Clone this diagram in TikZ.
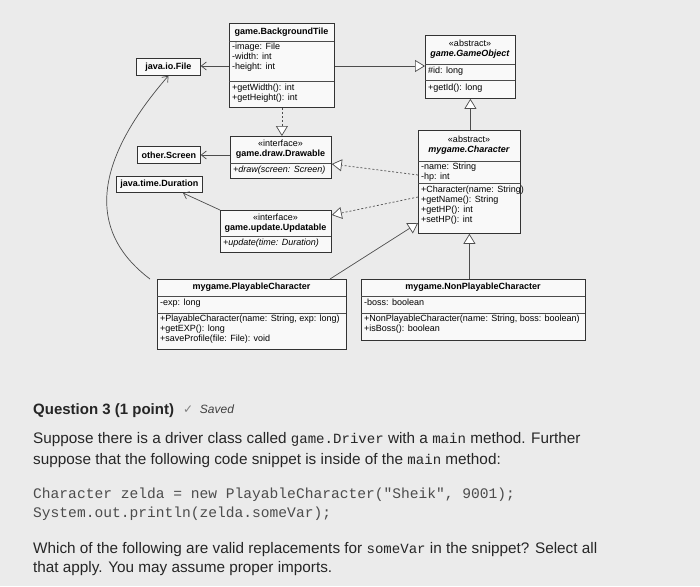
\documentclass[tikz,border=0pt]{standalone}
\usepackage{fontspec}
\setmainfont{Liberation Sans}
\newfontfamily\monof{Liberation Mono}[Scale=0.92]
\newfontfamily\monoc{Liberation Mono}
\newfontfamily\dejavu{DejaVu Sans}
\usetikzlibrary{arrows.meta}
\begin{document}
\begin{tikzpicture}[x=1pt,y=-1pt,
  box/.style={draw=black!80,line width=0.8pt,fill=white!95!gray,inner sep=0,anchor=north west},
  t/.style={font=\fontsize{9}{10}\selectfont,inner sep=0,align=left,anchor=north west},
  tc/.style={font=\fontsize{9}{10}\selectfont,inner sep=0,align=center},
  tb/.style={tc,font=\fontsize{9}{10}\selectfont\bfseries},
  ln/.style={draw=black!70,line width=0.7pt},
  dep/.style={ln,-{Straight Barb[length=5pt,width=8pt]}},
  inh/.style={ln,-{Triangle[open,length=10pt,width=12pt,fill=white]}},
  real/.style={ln,dashed,dash pattern=on 2pt off 2pt,-{Triangle[open,length=10pt,width=12pt,fill=white]}},
  q/.style={font=\fontsize{15.3}{18}\selectfont,text=black!85,inner sep=0,anchor=base west},
  cd/.style={font=\monoc\fontsize{14.6}{16}\selectfont,text=black!70,inner sep=0,anchor=base west}]
\fill[black!8] (0,0) rectangle (700,586);
\useasboundingbox (0,0) rectangle (700,586);
% boxes
\node[box,minimum width=105,minimum height=84] (bt) at (229,23) {};
\draw[ln] (229,41)--(334,41) (229,81)--(334,81);
\node[tb] at (281.5,32) {game.BackgroundTile};
\node[t] at (232,43) {-image: File\\-width: int\\-height: int};
\node[t] at (232,84) {+getWidth(): int\\+getHeight(): int};

\node[box,minimum width=90,minimum height=63] (go) at (425,35) {};
\draw[ln] (425,64)--(515,64) (425,80)--(515,80);
\node[tc] at (470,49.5) {«abstract»\\\textbf{\itshape game.GameObject}};
\node[t] at (428,67) {\#id: long};
\node[t] at (428,84) {+getId(): long};

\node[box,minimum width=64,minimum height=17] (file) at (136,58) {};
\node[tb] at (file) {java.io.File};

\node[box,minimum width=101,minimum height=42] (dr) at (230,136) {};
\draw[ln] (230,163)--(331,163);
\node[tc] at (280.5,149.5) {«interface»\\\textbf{game.draw.Drawable}};
\node[t] at (233,166) {\itshape +draw(screen: Screen)};

\node[box,minimum width=63,minimum height=17] (scr) at (137,146) {};
\node[tb] at (scr) {other.Screen};

\node[box,minimum width=86,minimum height=16] (dur) at (116,176) {};
\node[tb] at (dur) {java.time.Duration};

\node[box,minimum width=111,minimum height=42] (up) at (220,210) {};
\draw[ln] (220,236)--(331,236);
\node[tc] at (275.5,223) {«interface»\\\textbf{game.update.Updatable}};
\node[t] at (223,239) {\itshape +update(time: Duration)};

\node[box,minimum width=102,minimum height=103] (ch) at (418,130) {};
\draw[ln] (418,161)--(520,161) (418,183)--(520,183);
\node[tc] at (469,145.5) {«abstract»\\\textbf{\itshape mygame.Character}};
\node[t] at (421,163) {-name: String\\-hp: int};
\node[t] at (421,186) {+Character(name: String)\\+getName(): String\\+getHP(): int\\+setHP(): int};

\node[box,minimum width=189,minimum height=70] (pc) at (157,279) {};
\draw[ln] (157,296)--(346,296) (157,313)--(346,313);
\node[tb] at (251.5,287.5) {mygame.PlayableCharacter};
\node[t] at (160,299) {-exp: long};
\node[t] at (160,315) {+PlayableCharacter(name: String, exp: long)\\+getEXP(): long\\+saveProfile(file: File): void};

\node[box,minimum width=224,minimum height=61] (npc) at (361,279) {};
\draw[ln] (361,296)--(585,296) (361,313)--(585,313);
\node[tb] at (473,287.5) {mygame.NonPlayableCharacter};
\node[t] at (364,299) {-boss: boolean};
\node[t] at (364,315) {+NonPlayableCharacter(name: String, boss: boolean)\\+isBoss(): boolean};

% connectors
\draw[dep] (bt.west|-0,66) -- (file.east|-0,66);
\draw[inh] (bt.east|-0,66) -- (go.west|-0,66);
\draw[real] (bt.south) -- (dr.north-|bt.south);
\draw[dep] (dr.west|-0,155) -- (scr.east|-0,155);
\draw[real] (ch.west|-0,175) -- (dr.east|-0,164);
\draw[real] (ch.west|-0,197) -- (up.east|-0,215);
\draw[dep] (up.north west) -- (183,193);
\draw[inh] (ch.north-|go.south) -- (go.south);
\draw[inh] (npc.north-|ch.south) -- (ch.south);
\draw[inh] (330,279) -- (ch.west|-0,223);
\draw[dep] (150,279) .. controls (85,230) and (95,160) .. (file.south);
% question
\node[q,font=\fontsize{15}{17}\selectfont\bfseries] at (33,414) {Question 3 (1 point)};
\node[q,font=\fontsize{12}{14}\selectfont\itshape,text=black!75] at (183,413) {{\dejavu\upshape\textcolor{black!50}{✓}}\ \ Saved};
\node[q] at (33,443) {Suppose there is a driver class called {\monof game.Driver} with a {\monof main} method. Further};
\node[q] at (33,464) {suppose that the following code snippet is inside of the {\monof main} method:};
\node[cd] at (33,498) {Character zelda = new PlayableCharacter("Sheik", 9001);};
\node[cd] at (33,517) {System.out.println(zelda.someVar);};
\node[q] at (33,553) {Which of the following are valid replacements for {\monof someVar} in the snippet? Select all};
\node[q] at (33,572) {that apply. You may assume proper imports.};
\end{tikzpicture}
\end{document}
